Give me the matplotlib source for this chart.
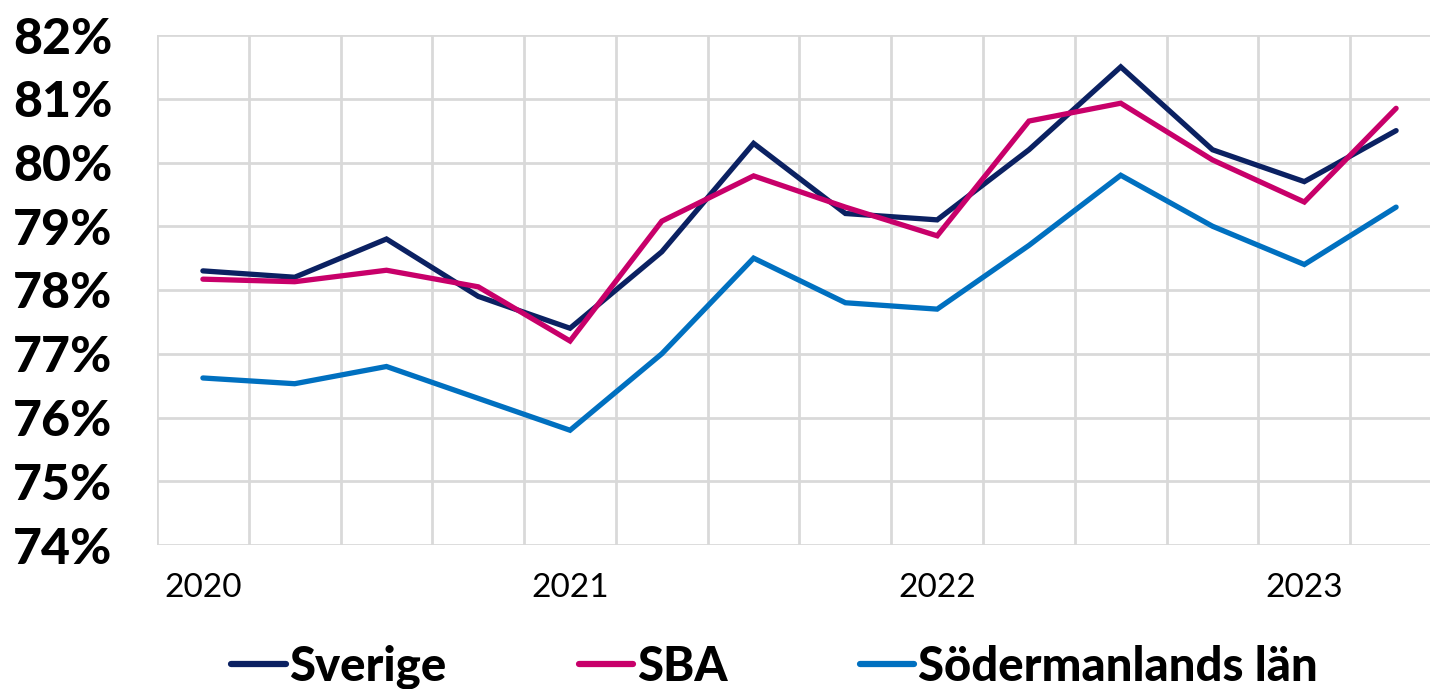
import matplotlib
matplotlib.use("Agg")
from matplotlib import pyplot as plt
from matplotlib.ticker import FuncFormatter

# quarters 2020 Q1 .. 2023 Q2
quarters = ["2020", "", "", "", "2021", "", "", "", "2022", "", "", "", "2023", ""]
sverige = [78.3, 78.2, 78.8, 77.9, 77.4, 78.6, 80.3, 79.2, 79.1, 80.2, 81.5, 80.2, 79.7, 80.5]
sba = [78.17, 78.13, 78.31, 78.05, 77.2, 79.08, 79.79, 79.3, 78.85, 80.65, 80.93, 80.04, 79.38, 80.85]
sodermanland = [76.62, 76.53, 76.8, 76.3, 75.8, 77.0, 78.5, 77.8, 77.7, 78.7, 79.8, 79.0, 78.4, 79.3]

series = [
    ("Sverige", sverige, "#0b2162"),
    ("SBA", sba, "#c8006a"),
    ("Södermanlands län", sodermanland, "#0070c0"),
]

fig = plt.figure(figsize=(14.3, 6.89), dpi=100)
ax = fig.add_axes([157 / 1430, (689 - 545) / 689, 1285 / 1430, 510 / 689])

x = list(range(len(quarters)))
for name, vals, col in series:
    ax.plot(x, vals, color=col, lw=3.8, label=name, solid_capstyle="round",
            solid_joinstyle="miter")

ax.set_ylim(74, 82)
ax.set_xlim(-0.5, len(quarters) - 0.5)
ax.set_yticks(range(74, 83))
ax.yaxis.set_major_formatter(FuncFormatter(lambda v, p: f"{v:.0f}%"))

# gridlines sit between the categories
ax.set_xticks([i - 0.5 for i in range(len(quarters) + 1)], minor=True)
ax.set_xticks(x)
ax.set_xticklabels(quarters)
ax.grid(True, which="minor", axis="x", color="#d9d9d9", lw=2)
ax.grid(True, which="major", axis="y", color="#d9d9d9", lw=2)
ax.set_axisbelow(True)
for s in ax.spines.values():
    s.set_visible(False)

ax.tick_params(which="both", length=0)
ax.tick_params(axis="y", pad=32, labelsize=36)
ax.tick_params(axis="x", pad=20, labelsize=24)
for lab in ax.get_yticklabels():
    lab.set_fontfamily("Lato")
    lab.set_fontweight("black")
for lab in ax.get_xticklabels():
    lab.set_fontfamily("Lato")

leg = fig.legend(loc="center", bbox_to_anchor=(0.5415, 0.032), ncol=3, frameon=False,
                 prop={"family": "Lato", "weight": "black", "size": 34},
                 handlelength=1.15, handletextpad=0.08, columnspacing=2.8)
for h in leg.legend_handles:
    h.set_linewidth(4.5)

fig.savefig("out.png", dpi=100)
